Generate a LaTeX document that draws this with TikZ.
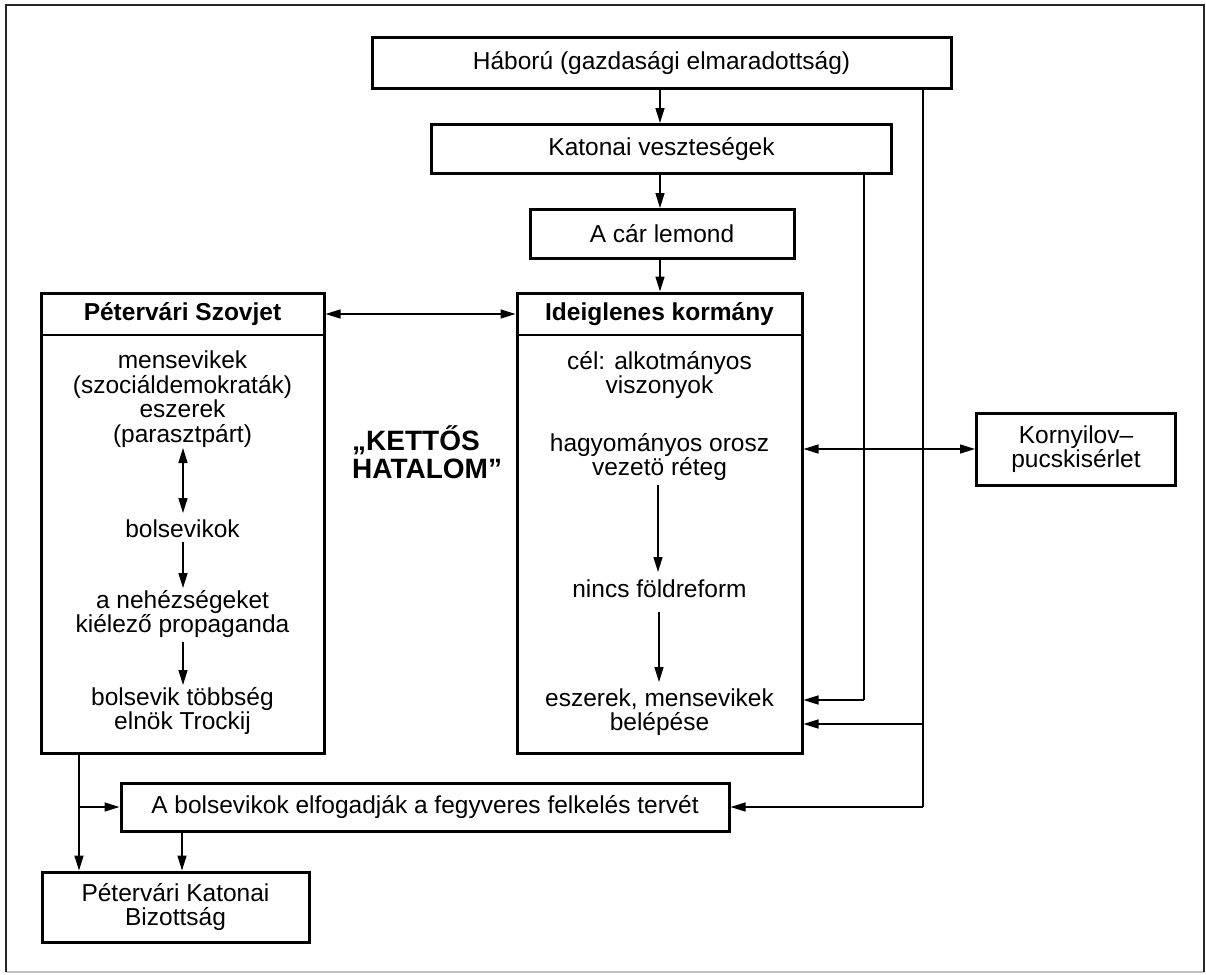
\documentclass[tikz,border=0pt]{standalone}
\usepackage{fontspec}
\setmainfont{Liberation Sans}
\usetikzlibrary{arrows.meta}
\tikzset{
  box/.style={draw, line width=3pt, inner sep=0pt, align=center},
  txt/.style={inner sep=0pt, align=center, font=\fontsize{24.5}{24.5}\selectfont},
  btxt/.style={inner sep=0pt, align=center, font=\fontsize{24.5}{24.5}\selectfont\bfseries},
  conn/.style={line width=1.5pt, -{Triangle[length=15pt,width=9pt]}},
  dconn/.style={line width=1.5pt, {Triangle[length=15pt,width=9pt]}-{Triangle[length=15pt,width=9pt]}},
  plain/.style={line width=1.5pt},
}
\begin{document}
\begin{tikzpicture}[x=1pt,y=-1pt]
\useasboundingbox (0,0) rectangle (1206,974);
% frame
\draw[line width=1.2pt, gray!50] (6,972) -- (1204,972);
\draw[line width=2.4pt, black!85] (6,972) -- (6,5) -- (1204,5) -- (1204,972);

% top chain
\node[box, txt, minimum width=579pt, minimum height=50pt] (haboru) at (661.5,63) {Háború (gazdasági elmaradottság)};
\node[box, txt, minimum width=460pt, minimum height=49pt] (katonai) at (661.5,149) {Katonai veszteségek};
\node[box, txt, minimum width=264pt, minimum height=49pt] (car) at (662,234) {A cár lemond};

% Szovjet column
\node[box, minimum width=283pt, minimum height=460pt] (szov) at (182.5,523) {};
\draw[line width=2.2pt] (szov.west |- 0,335) -- (szov.east |- 0,335);
\node[btxt] (szhead) at (182.5,314) {Pétervári Szovjet};
\node[txt] (sz1) at (182.5,399) {mensevikek\\(szociáldemokraták)\\eszerek\\(parasztpárt)};
\node[txt] (sz2) at (182.5,529) {bolsevikok};
\node[txt] (sz3) at (182.5,614) {a nehézségeket\\kiélező propaganda};
\node[txt] (sz4) at (182.5,711) {bolsevik többség\\elnök Trockij};

% Ideiglenes column
\node[box, minimum width=285pt, minimum height=460pt] (ideig) at (659.5,523) {};
\draw[line width=2.2pt] (ideig.west |- 0,335) -- (ideig.east |- 0,335);
\node[btxt] (ighead) at (659.5,314) {Ideiglenes kormány};
\node[txt] (ig1) at (659.5,375) {cél: alkotmányos\\viszonyok};
\node[txt] (ig2) at (659.5,457) {hagyományos orosz\\vezetö réteg};
\node[txt] (ig3) at (659.5,589) {nincs földreform};
\node[txt] (ig4) at (659.5,712) {eszerek, mensevikek\\belépése};

% middle label
\node[inner sep=0pt, align=left, anchor=west, font=\fontsize{28}{28}\selectfont\bfseries] (kettos) at (352,452) {„KETTŐS\\HATALOM”};

% Kornyilov
\node[box, txt, minimum width=199pt, minimum height=72pt] (korn) at (1076,449) {Kornyilov–\\pucskisérlet};

% bottom boxes
\node[box, txt, minimum width=608pt, minimum height=48pt] (bolbox) at (425,807) {A bolsevikok elfogadják a fegyveres felkelés tervét};
\node[box, txt, minimum width=267pt, minimum height=70pt] (biz) at (175.5,907) {Pétervári Katonai\\Bizottság};

% coordinates
\coordinate (k1) at (864,700);
\coordinate (h1) at (923,724);
\coordinate (h2) at (923,807);
\coordinate (l1) at (79,807);
\coordinate (b1) at (182,850);

% top arrows
\draw[conn] (haboru.south -| 660,0) -- (katonai.north -| 660,0);
\draw[conn] (katonai.south -| 660,0) -- (car.north -| 660,0);
\draw[conn] (car.south -| 660,0) -- (ideig.north -| 660,0);

% dual power
\draw[dconn] (szov.east |- szhead) -- (ideig.west |- szhead);

% Kornyilov
\draw[dconn] (ideig.east |- korn) -- (korn.west);

% right side feeds
\draw[plain] (katonai.south -| k1) -- (k1);
\draw[conn] (k1) -- (k1 -| ideig.east);
\draw[plain] (haboru.south -| h2) -- (h2);
\draw[conn] (h1) -- (h1 -| ideig.east);
\draw[conn] (h2) -- (bolbox.east |- h2);

% left side
\draw[conn] (szov.south -| l1) -- (biz.north -| l1);
\draw[conn] (l1) -- (l1 -| bolbox.west);
\draw[conn] (bolbox.south -| b1) -- (biz.north -| b1);

% inner arrows
\draw[dconn] (183,448) -- (183,513);
\draw[conn] (183,542) -- (183,588);
\draw[conn] (183,642) -- (183,685);
\draw[conn] (658,485) -- (658,572);
\draw[conn] (659,612) -- (659,682);
\end{tikzpicture}
\end{document}
